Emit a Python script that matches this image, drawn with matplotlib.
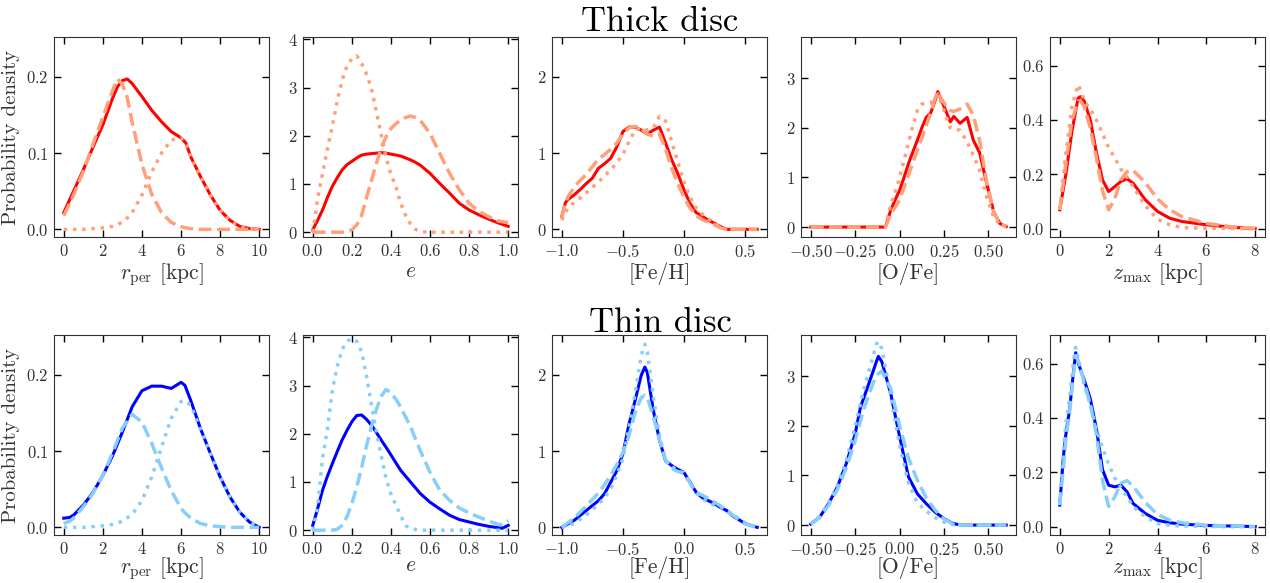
import matplotlib
matplotlib.use("Agg")
import matplotlib.pyplot as plt

plt.rcParams["font.family"] = "serif"
plt.rcParams["font.serif"] = ["cmr10"]
plt.rcParams["mathtext.fontset"] = "cm"
plt.rcParams["axes.formatter.use_mathtext"] = True

# ---- thick disc ----
rper_x_thick = [0, 0.5, 1, 1.5, 2, 2.5, 2.75, 3, 3.25, 3.5, 4, 4.5, 5, 5.5, 6, 6.25,
                6.5, 7, 7.5, 8, 8.5, 9, 9.5, 10]
rper_all_thick = [0.022, 0.05, 0.078, 0.108, 0.137, 0.172, 0.187, 0.195, 0.197, 0.191,
                  0.174, 0.156, 0.141, 0.128, 0.12, 0.113, 0.095, 0.069, 0.045, 0.025,
                  0.012, 0.004, 0.001, 0.0]
rper_c1_thick = [0.018, 0.045, 0.076, 0.112, 0.147, 0.182, 0.197, 0.19, 0.172, 0.14,
                 0.085, 0.046, 0.022, 0.009, 0.0035, 0.002, 0.001, 0, 0, 0, 0, 0, 0, 0]
rper_c2_thick = [0, 0, 0, 0.001, 0.002, 0.004, 0.006, 0.01, 0.015, 0.022, 0.045, 0.075,
                 0.1, 0.117, 0.12, 0.113, 0.095, 0.069, 0.045, 0.025, 0.012, 0.004, 0.001, 0]

ecc_x_thick = [0, 0.025, 0.05, 0.075, 0.1, 0.125, 0.15, 0.175, 0.2, 0.225, 0.25, 0.275,
               0.3, 0.325, 0.35, 0.375, 0.4, 0.425, 0.45, 0.475, 0.5, 0.525, 0.55, 0.6,
               0.65, 0.7, 0.75, 0.8, 0.85, 0.9, 0.95, 1.0]
ecc_all_thick = [0.05, 0.25, 0.46, 0.72, 0.95, 1.13, 1.29, 1.4, 1.47, 1.54, 1.6, 1.62,
                 1.63, 1.64, 1.65, 1.64, 1.62, 1.6, 1.58, 1.54, 1.5, 1.45, 1.39, 1.22,
                 1.01, 0.81, 0.6, 0.46, 0.36, 0.27, 0.19, 0.12]
ecc_c1_thick = [0, 0, 0, 0, 0, 0, 0, 0.01, 0.05, 0.15, 0.35, 0.72, 1.07, 1.42, 1.75,
                1.98, 2.15, 2.25, 2.33, 2.38, 2.41, 2.38, 2.32, 2.05, 1.63, 1.22, 0.88,
                0.6, 0.43, 0.32, 0.23, 0.2]
ecc_c2_thick = [0, 0.7, 1.22, 1.73, 2.2, 2.72, 3.15, 3.45, 3.6, 3.66, 3.5, 3.28, 2.98,
                2.5, 2.02, 1.55, 1.2, 0.95, 0.6, 0.35, 0.17, 0.06, 0.01, 0, 0, 0, 0, 0,
                0, 0, 0, 0]

feh_x_thick = [-1.0, -0.97, -0.95, -0.9, -0.85, -0.8, -0.75, -0.7, -0.65, -0.6, -0.55,
               -0.5, -0.45, -0.4, -0.35, -0.3, -0.25, -0.2, -0.15, -0.1, -0.05, 0.0,
               0.05, 0.1, 0.15, 0.2, 0.25, 0.3, 0.35, 0.4, 0.5, 0.6]
feh_all_thick = [0.17, 0.35, 0.39, 0.45, 0.52, 0.6, 0.67, 0.8, 0.86, 0.93, 1.08, 1.28,
                 1.34, 1.34, 1.3, 1.25, 1.3, 1.34, 1.13, 0.91, 0.73, 0.52, 0.34, 0.22,
                 0.17, 0.12, 0.08, 0.035, 0, 0, 0, 0]
feh_c1_thick = [0.15, 0.35, 0.42, 0.55, 0.64, 0.72, 0.82, 0.92, 0.98, 1.05, 1.13, 1.25,
                1.33, 1.35, 1.32, 1.25, 1.22, 1.25, 1.05, 0.8, 0.6, 0.42, 0.28, 0.18,
                0.13, 0.09, 0.06, 0.02, 0, 0, 0, 0]
feh_c2_thick = [0.12, 0.22, 0.28, 0.35, 0.41, 0.48, 0.55, 0.62, 0.7, 0.78, 0.87, 0.98,
                1.15, 1.3, 1.33, 1.3, 1.33, 1.48, 1.42, 1.15, 0.88, 0.62, 0.42, 0.28,
                0.2, 0.14, 0.08, 0.03, 0, 0, 0, 0]

ofe_x_thick = [-0.5, -0.25, -0.08, -0.05, -0.025, 0.0, 0.025, 0.05, 0.075, 0.1, 0.125,
               0.15, 0.175, 0.2, 0.215, 0.25, 0.285, 0.305, 0.34, 0.38, 0.415, 0.45,
               0.49, 0.53, 0.565, 0.6]
ofe_all_thick = [0, 0, 0, 0.34, 0.55, 0.74, 1.0, 1.28, 1.52, 1.75, 2.0, 2.21, 2.3, 2.55,
                 2.73, 2.43, 2.12, 2.23, 2.09, 2.21, 1.75, 1.5, 0.88, 0.3, 0.07, 0.01]
ofe_c1_thick = [0, 0, 0, 0.25, 0.4, 0.55, 0.8, 1.05, 1.3, 1.55, 1.8, 2.05, 2.3, 2.6, 2.7,
                2.5, 2.35, 2.33, 2.38, 2.48, 2.25, 1.75, 0.9, 0.3, 0.07, 0.01]
ofe_c2_thick = [0, 0, 0, 0.45, 0.7, 1.0, 1.35, 1.7, 2.05, 2.35, 2.48, 2.5, 2.5, 2.62,
                2.68, 2.35, 2.0, 1.98, 1.95, 1.72, 1.45, 1.15, 0.6, 0.2, 0.05, 0.01]

zmax_x_thick = [0, 0.25, 0.5, 0.75, 0.85, 1.0, 1.25, 1.5, 1.75, 2.0, 2.25, 2.5, 2.75,
                3.0, 3.5, 4.0, 4.5, 5.0, 6.0, 7.0, 8.0]
zmax_all_thick = [0.07, 0.2, 0.36, 0.48, 0.486, 0.47, 0.4, 0.28, 0.18, 0.137, 0.155,
                  0.174, 0.184, 0.168, 0.107, 0.064, 0.039, 0.027, 0.015, 0.006, 0.001]
zmax_c1_thick = [0.07, 0.24, 0.4, 0.47, 0.47, 0.45, 0.37, 0.26, 0.14, 0.07, 0.11, 0.18,
                 0.21, 0.215, 0.17, 0.11, 0.07, 0.045, 0.02, 0.008, 0.002]
zmax_c2_thick = [0.07, 0.28, 0.45, 0.53, 0.51, 0.47, 0.44, 0.4, 0.35, 0.3, 0.26, 0.22,
                 0.19, 0.155, 0.085, 0.035, 0.015, 0.005, 0.002, 0.001, 0.0]

# ---- thin disc ----
rper_x_thin = [0, 0.3, 0.5, 1, 1.5, 2, 2.5, 3, 3.5, 4, 4.5, 5, 5.5, 6, 6.2, 6.5, 7,
               7.5, 8, 8.5, 9, 9.5, 10]
rper_all_thin = [0.012, 0.013, 0.016, 0.029, 0.046, 0.068, 0.094, 0.125, 0.158, 0.179,
                 0.185, 0.185, 0.182, 0.19, 0.186, 0.166, 0.129, 0.097, 0.066, 0.04,
                 0.02, 0.007, 0.0]
rper_c1_thin = [0.005, 0.008, 0.012, 0.027, 0.045, 0.068, 0.098, 0.13, 0.148, 0.138,
                0.11, 0.078, 0.048, 0.025, 0.019, 0.012, 0.005, 0.002, 0.001, 0, 0, 0, 0]
rper_c2_thin = [0, 0, 0, 0, 0.001, 0.002, 0.004, 0.008, 0.017, 0.035, 0.066, 0.105,
                0.143, 0.165, 0.166, 0.16, 0.128, 0.097, 0.066, 0.04, 0.02, 0.007, 0.0]

ecc_x_thin = [0, 0.025, 0.05, 0.075, 0.1, 0.125, 0.15, 0.175, 0.2, 0.225, 0.25, 0.275,
              0.3, 0.325, 0.35, 0.375, 0.4, 0.425, 0.45, 0.475, 0.5, 0.55, 0.6, 0.65,
              0.7, 0.75, 0.8, 0.85, 0.9, 0.95, 0.97, 1.0]
ecc_all_thin = [0.1, 0.45, 0.83, 1.12, 1.38, 1.63, 1.87, 2.07, 2.25, 2.38, 2.39, 2.3,
                2.18, 2.03, 1.87, 1.72, 1.56, 1.4, 1.24, 1.12, 1.0, 0.76, 0.58, 0.44,
                0.31, 0.22, 0.17, 0.12, 0.08, 0.05, 0.04, 0.1]
ecc_c1_thin = [0, 0, 0, 0, 0, 0.02, 0.1, 0.28, 0.55, 0.9, 1.3, 1.75, 2.15, 2.5, 2.78,
               2.92, 2.85, 2.72, 2.55, 2.35, 2.15, 1.65, 1.2, 0.83, 0.62, 0.46, 0.36,
               0.27, 0.19, 0.12, 0.12, 0.2]
ecc_c2_thin = [0, 0.5, 1.5, 2.1, 2.9, 3.4, 3.75, 3.92, 3.98, 3.92, 3.7, 3.2, 2.6, 2.05,
               1.55, 1.07, 0.75, 0.52, 0.3, 0.1, 0.03, 0, 0, 0, 0, 0, 0, 0, 0, 0, 0, 0]

feh_x_thin = [-1.0, -0.9, -0.8, -0.7, -0.65, -0.6, -0.55, -0.5, -0.45, -0.4, -0.35,
              -0.32, -0.3, -0.25, -0.2, -0.15, -0.1, -0.05, 0.0, 0.05, 0.1, 0.15, 0.2,
              0.25, 0.3, 0.35, 0.4, 0.5, 0.6]
feh_all_thin = [0.0, 0.09, 0.22, 0.35, 0.44, 0.59, 0.74, 0.96, 1.35, 1.66, 1.99, 2.1,
                2.03, 1.53, 1.14, 0.87, 0.81, 0.76, 0.72, 0.59, 0.46, 0.39, 0.35, 0.31,
                0.26, 0.22, 0.15, 0.05, 0.0]
feh_c1_thin = [0.0, 0.12, 0.28, 0.45, 0.56, 0.68, 0.82, 0.98, 1.2, 1.5, 1.7, 1.73, 1.7,
               1.45, 1.15, 0.88, 0.77, 0.73, 0.72, 0.58, 0.46, 0.42, 0.38, 0.33, 0.28,
               0.22, 0.16, 0.05, 0.0]
feh_c2_thin = [0.0, 0.05, 0.16, 0.3, 0.39, 0.5, 0.68, 0.9, 1.3, 1.75, 2.25, 2.4, 2.3,
               1.7, 1.2, 0.88, 0.8, 0.74, 0.7, 0.58, 0.45, 0.38, 0.32, 0.29, 0.27, 0.22,
               0.17, 0.06, 0.0]

ofe_x_thin = [-0.5, -0.45, -0.4, -0.35, -0.3, -0.25, -0.22, -0.2, -0.15, -0.13, -0.12,
              -0.1, -0.05, 0.0, 0.05, 0.1, 0.15, 0.2, 0.25, 0.3, 0.35, 0.6]
ofe_all_thin = [0.02, 0.16, 0.43, 0.77, 1.24, 1.84, 2.38, 2.58, 3.09, 3.3, 3.4, 3.29,
                2.65, 1.78, 0.97, 0.63, 0.43, 0.26, 0.13, 0.03, 0.0, 0.0]
ofe_c1_thin = [0.02, 0.15, 0.4, 0.72, 1.15, 1.7, 2.1, 2.35, 2.85, 3.0, 3.05, 3.1, 2.75,
               2.0, 1.35, 0.9, 0.55, 0.3, 0.12, 0.02, 0.0, 0.0]
ofe_c2_thin = [0.02, 0.17, 0.45, 0.8, 1.3, 2.0, 2.45, 2.75, 3.4, 3.65, 3.7, 3.55, 2.6,
               1.6, 0.85, 0.45, 0.28, 0.15, 0.06, 0.01, 0.0, 0.0]

zmax_x_thin = [0, 0.15, 0.25, 0.4, 0.55, 0.65, 0.8, 1.0, 1.25, 1.5, 1.75, 2.0, 2.25,
               2.5, 2.75, 3.0, 3.5, 4.0, 4.5, 5.0, 6.0, 8.0]
zmax_all_thin = [0.08, 0.26, 0.34, 0.43, 0.56, 0.64, 0.59, 0.54, 0.47, 0.36, 0.21,
                 0.153, 0.147, 0.153, 0.129, 0.086, 0.049, 0.024, 0.015, 0.01, 0.005, 0.001]
zmax_c1_thin = [0.08, 0.22, 0.32, 0.42, 0.55, 0.63, 0.6, 0.53, 0.45, 0.34, 0.17, 0.075,
                0.11, 0.16, 0.17, 0.15, 0.09, 0.045, 0.025, 0.015, 0.006, 0.001]
zmax_c2_thin = [0.08, 0.28, 0.38, 0.47, 0.6, 0.66, 0.6, 0.52, 0.45, 0.36, 0.29, 0.23,
                0.18, 0.145, 0.11, 0.075, 0.037, 0.012, 0.006, 0.003, 0.001, 0.0]

xlabels = [r"$r_{\rm per}$ [kpc]", r"$e$", "[Fe/H]", "[O/Fe]", r"$z_{\rm max}$ [kpc]"]
ylims = [(-0.01, 0.252), (-0.1, 4.05), (-0.1, 2.52), (-0.2, 3.83), (-0.03, 0.705)]
yticks = [[0.0, 0.1, 0.2], [0, 1, 2, 3, 4], [0, 1, 2], [0, 1, 2, 3], [0.0, 0.2, 0.4, 0.6]]
xticks = [[0, 2, 4, 6, 8, 10], [0.0, 0.2, 0.4, 0.6, 0.8, 1.0], [-1.0, -0.5, 0.0, 0.5],
          [-0.5, -0.25, 0.0, 0.25, 0.5], [0, 2, 4, 6, 8]]
yfmt = ["%.1f", "%d", "%d", "%d", "%.1f"]
xfmt = ["%d", "%.1f", "%.1f", "%.2f", "%d"]

thick = [
    (rper_x_thick, rper_all_thick, rper_c1_thick, rper_c2_thick),
    (ecc_x_thick, ecc_all_thick, ecc_c1_thick, ecc_c2_thick),
    (feh_x_thick, feh_all_thick, feh_c1_thick, feh_c2_thick),
    (ofe_x_thick, ofe_all_thick, ofe_c1_thick, ofe_c2_thick),
    (zmax_x_thick, zmax_all_thick, zmax_c1_thick, zmax_c2_thick),
]
thin = [
    (rper_x_thin, rper_all_thin, rper_c1_thin, rper_c2_thin),
    (ecc_x_thin, ecc_all_thin, ecc_c1_thin, ecc_c2_thin),
    (feh_x_thin, feh_all_thin, feh_c1_thin, feh_c2_thin),
    (ofe_x_thin, ofe_all_thin, ofe_c1_thin, ofe_c2_thin),
    (zmax_x_thin, zmax_all_thin, zmax_c1_thin, zmax_c2_thin),
]


def mathlabel(fmt, v):
    return "$" + (fmt % v) + "$"


W, H = 1270, 583
fig = plt.figure(figsize=(W / 100, H / 100), dpi=100)

lefts = [54, 303, 552, 801, 1050]
row_bottoms = [237, 535]
aw, ah = 215, 200
grey = "#333333"

rows = [(thick, "red", "#ffa07a"), (thin, "blue", "#87cefa")]
for r, (data, main_col, comp_col) in enumerate(rows):
    for c in range(5):
        ax = fig.add_axes([lefts[c] / W, 1 - row_bottoms[r] / H, aw / W, ah / H])
        x, y_all, y_c1, y_c2 = data[c]
        ax.plot(x, y_all, color=main_col, lw=2.2, zorder=3)
        ax.plot(x, y_c1, color=comp_col, lw=2.5, ls="--", zorder=4)
        ax.plot(x, y_c2, color=comp_col, lw=2.5, ls=":", zorder=5)
        ax.set_ylim(*ylims[c])
        ax.set_yticks(yticks[c])
        ax.set_xticks(xticks[c])
        ax.set_yticklabels([mathlabel(yfmt[c], v) for v in yticks[c]])
        ax.set_xticklabels([mathlabel(xfmt[c], v) for v in xticks[c]])
        ax.tick_params(direction="in", top=True, right=True, length=5, width=1,
                       labelsize=12, labelcolor=grey, pad=4)
        for sp in ax.spines.values():
            sp.set_color(grey)
        ax.set_xlabel(xlabels[c], fontsize=15.5, color=grey, labelpad=2 if r == 0 else -1)
        if c == 0:
            ax.set_ylabel("Probability density", fontsize=15, color=grey, labelpad=4)

fig.text(0.519, 1 - 31 / H, "Thick disc", ha="center", va="baseline", fontsize=25)
fig.text(0.52, 1 - 332 / H, "Thin disc", ha="center", va="baseline", fontsize=25)

fig.savefig("out.png", dpi=100)
